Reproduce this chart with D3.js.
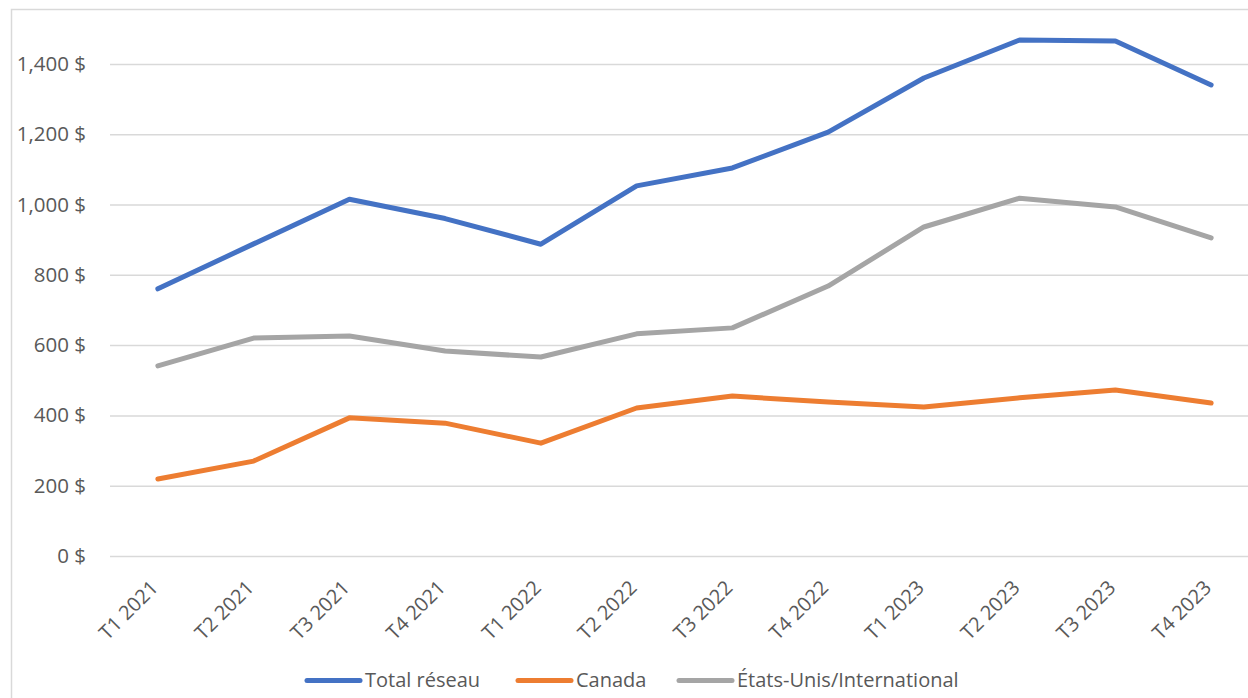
<!DOCTYPE html>
<html><head><meta charset="utf-8">
<script src="https://cdn.jsdelivr.net/npm/d3@7"></script>
<style>body{margin:0;background:#fff}svg{display:block}</style>
</head><body>
<svg id="c" width="1248" height="698"></svg>
<script>
const categories = ["T1 2021","T2 2021","T3 2021","T4 2021","T1 2022","T2 2022","T3 2022","T4 2022","T1 2023","T2 2023","T3 2023","T4 2023"];
const totalReseau = [760, 888, 1015, 960, 887, 1053, 1104, 1206, 1360, 1468, 1465, 1340];
const canada = [219, 270, 393, 378, 321, 421, 455, 438, 424, 450, 472, 435];
const etatsUnis = [541, 620, 626, 583, 566, 632, 649, 768, 936, 1018, 993, 905];
const seriesNames = ["Total réseau", "Canada", "États-Unis/International"];
const yTicks = [0, 200, 400, 600, 800, 1000, 1200, 1400];

const colors = ["#4472C4", "#ED7D31", "#A5A5A5"];
const series = [totalReseau, canada, etatsUnis];
const font = "'Open Sans', 'Noto Sans', sans-serif";
const svg = d3.select("#c");

svg.append("rect").attr("x", 11.5).attr("y", 9.5).attr("width", 1400).attr("height", 900)
  .attr("fill", "none").attr("stroke", "#d9d9d9").attr("stroke-width", 1.5);

const x = d3.scalePoint().domain(categories).range([110, 1259]).padding(0.5);
const y = d3.scaleLinear().domain([0, 200]).range([556, 485.7]);

const yAxis = svg.append("g").attr("transform", "translate(110,0)")
  .call(d3.axisLeft(y).tickValues(yTicks).tickSize(-1160)
    .tickFormat(d => d3.format(",")(d) + " $").tickPadding(24));
yAxis.select(".domain").remove();
yAxis.selectAll(".tick line").attr("stroke", "#d9d9d9").attr("stroke-width", 1.5);
yAxis.selectAll(".tick text").attr("fill", "#595959").style("font-family", font).style("font-size", "20.5px");

const xAxis = svg.append("g").attr("transform", "translate(0,556)")
  .call(d3.axisBottom(x).tickSize(0));
xAxis.select(".domain").remove();
xAxis.selectAll(".tick text")
  .attr("fill", "#595959").style("font-family", font).style("font-size", "20px")
  .attr("text-anchor", "end")
  .attr("transform", "translate(1,33) rotate(-45)")
  .attr("dy", 0).attr("y", 0);

const line = d3.line().x((d, i) => x(categories[i])).y(d => y(d));
series.forEach((s, k) => {
  svg.append("path").datum(s).attr("d", line).attr("fill", "none")
    .attr("stroke", colors[k]).attr("stroke-width", 5)
    .attr("stroke-linecap", "round").attr("stroke-linejoin", "round");
});

const legendX = [307, 518, 679];
seriesNames.forEach((n, k) => {
  const g = svg.append("g").attr("transform", `translate(${legendX[k]},680.5)`);
  g.append("line").attr("x1", 0).attr("x2", 53).attr("stroke", colors[k])
    .attr("stroke-width", 5).attr("stroke-linecap", "round");
  g.append("text").attr("x", 58).attr("dy", "0.33em").text(n)
    .attr("fill", "#595959").style("font-family", font).style("font-size", "20px");
});
</script>
</body></html>
